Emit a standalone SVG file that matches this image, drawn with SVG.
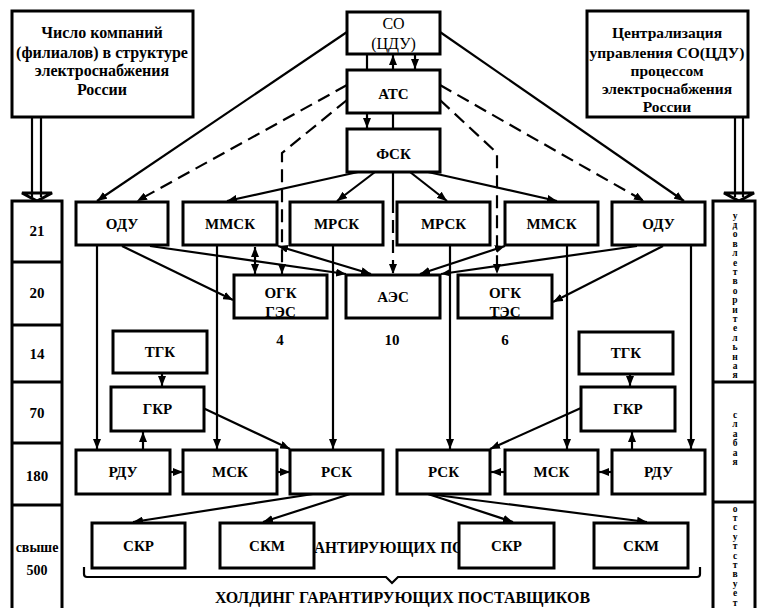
<svg xmlns="http://www.w3.org/2000/svg" width="757" height="608" viewBox="0 0 757 608" font-family="Liberation Serif, Tinos, Times New Roman, serif">
<style>
.box{fill:#fff;stroke:#000;stroke-width:3}
.t{font-weight:bold;font-size:15px;text-anchor:middle;fill:#000}
.s{font-weight:bold;font-size:16px;text-anchor:start;fill:#000}
.r{font-weight:normal;font-size:16px;text-anchor:middle;fill:#000}
.v{font-weight:bold;font-size:9.5px;text-anchor:middle;fill:#000}
.c{fill:none;stroke:#000;stroke-width:2.2}
.d{fill:none;stroke:#000;stroke-width:2.2;stroke-dasharray:13 7}
</style>
<defs>
<marker id="a" markerUnits="userSpaceOnUse" markerWidth="10" markerHeight="8" refX="10" refY="4" orient="auto-start-reverse"><path d="M0,0 L10,4 L0,8 z" fill="#000"/></marker>
</defs>
<rect width="757" height="608" fill="#fff"/>

<g id="connectors">
<line class="c" x1="367" y1="54" x2="367" y2="70"/>
<line class="c" x1="393" y1="70" x2="393" y2="55" marker-end="url(#a)"/>
<line class="c" x1="415" y1="54" x2="415" y2="69" marker-end="url(#a)"/>
<line class="c" x1="367" y1="113" x2="367" y2="128" marker-end="url(#a)"/>
<line class="c" x1="393" y1="113" x2="393" y2="129"/>
<line class="c" x1="347" y1="32" x2="97" y2="201" marker-end="url(#a)"/>
<line class="c" x1="440" y1="32" x2="684" y2="201" marker-end="url(#a)"/>
<line class="d" x1="347" y1="85" x2="137" y2="201" marker-end="url(#a)"/>
<line class="d" x1="440" y1="85" x2="644" y2="201" marker-end="url(#a)"/>
<polyline class="d" points="347,100 282,153 282,274" marker-end="url(#a)"/>
<polyline class="d" points="440,100 497,153 497,274" marker-end="url(#a)"/>
<line class="c" x1="358" y1="172" x2="227" y2="201" marker-end="url(#a)"/>
<line class="c" x1="375" y1="172" x2="337" y2="201" marker-end="url(#a)"/>
<line class="c" x1="393" y1="172" x2="393" y2="200"/>
<line class="d" x1="393" y1="200" x2="393" y2="274" marker-end="url(#a)"/>
<line class="c" x1="410" y1="172" x2="447" y2="201" marker-end="url(#a)"/>
<line class="c" x1="428" y1="172" x2="557" y2="201" marker-end="url(#a)"/>
<line class="c" x1="122" y1="246" x2="233" y2="300" marker-end="url(#a)"/>
<line class="c" x1="150" y1="246" x2="346" y2="274" marker-end="url(#a)"/>
<line class="c" x1="278" y1="246" x2="371" y2="274" marker-start="url(#a)" marker-end="url(#a)"/>
<line class="c" x1="255" y1="247" x2="255" y2="274" marker-start="url(#a)" marker-end="url(#a)"/>
<line class="c" x1="505" y1="246" x2="420" y2="274" marker-start="url(#a)" marker-end="url(#a)"/>
<line class="c" x1="637" y1="246" x2="441" y2="274" marker-end="url(#a)"/>
<line class="c" x1="663" y1="246" x2="553" y2="302" marker-end="url(#a)"/>
<line class="c" x1="97" y1="245" x2="97" y2="449" marker-end="url(#a)"/>
<line class="c" x1="217" y1="245" x2="217" y2="449" marker-end="url(#a)"/>
<line class="c" x1="333" y1="245" x2="333" y2="449" marker-end="url(#a)"/>
<line class="c" x1="450" y1="245" x2="450" y2="449" marker-end="url(#a)"/>
<line class="c" x1="567" y1="245" x2="567" y2="449" marker-end="url(#a)"/>
<line class="c" x1="691" y1="245" x2="691" y2="449" marker-end="url(#a)"/>
<line class="c" x1="162" y1="373" x2="162" y2="386" marker-end="url(#a)"/>
<line class="c" x1="143" y1="450" x2="143" y2="432" marker-end="url(#a)"/>
<line class="c" x1="203" y1="408" x2="290" y2="449" marker-end="url(#a)"/>
<line class="c" x1="630" y1="374" x2="630" y2="386" marker-end="url(#a)"/>
<line class="c" x1="632" y1="450" x2="632" y2="432" marker-end="url(#a)"/>
<line class="c" x1="581" y1="408" x2="490" y2="449" marker-end="url(#a)"/>
<line class="c" x1="170" y1="472" x2="183" y2="472" marker-end="url(#a)"/>
<line class="c" x1="277" y1="472" x2="290" y2="472" marker-end="url(#a)"/>
<line class="c" x1="505" y1="472" x2="491" y2="472" marker-end="url(#a)"/>
<line class="c" x1="612" y1="472" x2="599" y2="472" marker-end="url(#a)"/>
<line class="c" x1="313" y1="494" x2="133" y2="522" marker-end="url(#a)"/>
<line class="c" x1="350" y1="494" x2="263" y2="522" marker-end="url(#a)"/>
<line class="c" x1="428" y1="494" x2="513" y2="522" marker-end="url(#a)"/>
<line class="c" x1="428" y1="494" x2="647" y2="522" marker-end="url(#a)"/>
<line class="c" x1="32" y1="117" x2="32" y2="197"/>
<line class="c" x1="41" y1="117" x2="41" y2="197"/>
<polygon points="22,193 52,193 37,201" fill="none" stroke="#000" stroke-width="3"/>
<line class="c" x1="735" y1="117" x2="735" y2="197"/>
<line class="c" x1="743" y1="117" x2="743" y2="197"/>
<polygon points="724,193 754,193 739,201" fill="none" stroke="#000" stroke-width="3"/>
<path class="c" d="M84,567 L84,574 Q84,577 87,577 L386,577 L392,583 L398,577 L697,577 Q700,577 700,574 L700,567"/>
</g>

<text class="s" x="314" y="553" textLength="150" lengthAdjust="spacingAndGlyphs">АНТИРУЮЩИХ ПО</text>
<text class="s" x="215" y="603" textLength="375" lengthAdjust="spacingAndGlyphs">ХОЛДИНГ ГАРАНТИРУЮЩИХ ПОСТАВЩИКОВ</text>

<g id="info-left">
<rect class="box" x="12" y="11" width="181" height="106"/>
<text class="t" x="102" y="38" style="font-size:16px">Число компаний</text>
<text class="t" x="102" y="58" style="font-size:16px">(филиалов) в структуре</text>
<text class="t" x="102" y="76" style="font-size:16px">электроснабжения</text>
<text class="t" x="102" y="95" style="font-size:16px">России</text>
</g>
<g id="info-right">
<rect class="box" x="587" y="11" width="161" height="106"/>
<text class="t" x="667" y="38" style="font-size:15.5px">Централизация</text>
<text class="t" x="667" y="58" style="font-size:15.5px">управления СО(ЦДУ)</text>
<text class="t" x="667" y="76" style="font-size:15.5px">процессом</text>
<text class="t" x="667" y="94" style="font-size:15.5px">электроснабжения</text>
<text class="t" x="667" y="112" style="font-size:15.5px">России</text>
</g>

<g id="col-left">
<rect class="box" x="12" y="201" width="50" height="420"/>
<line class="box" x1="12" y1="262" x2="62" y2="262"/>
<line class="box" x1="12" y1="325" x2="62" y2="325"/>
<line class="box" x1="12" y1="382" x2="62" y2="382"/>
<line class="box" x1="12" y1="443" x2="62" y2="443"/>
<line class="box" x1="12" y1="505" x2="62" y2="505"/>
<text class="t" x="37" y="236">21</text>
<text class="t" x="37" y="298">20</text>
<text class="t" x="37" y="359">14</text>
<text class="t" x="37" y="418">70</text>
<text class="t" x="37" y="481">180</text>
<text class="t" x="37" y="552" style="font-size:14px">свыше</text>
<text class="t" x="37" y="575" style="font-size:14px">500</text>
</g>

<g id="col-right">
<rect class="box" x="713" y="201" width="42" height="420"/>
<line class="box" x1="713" y1="382" x2="755" y2="382"/>
<line class="box" x1="713" y1="502" x2="755" y2="502"/>
<text class="v"><tspan x="735" y="218.5">у</tspan><tspan x="735" dy="9.4">д</tspan><tspan x="735" dy="9.4">о</tspan><tspan x="735" dy="9.4">в</tspan><tspan x="735" dy="9.4">л</tspan><tspan x="735" dy="9.4">е</tspan><tspan x="735" dy="9.4">т</tspan><tspan x="735" dy="9.4">в</tspan><tspan x="735" dy="9.4">о</tspan><tspan x="735" dy="9.4">р</tspan><tspan x="735" dy="9.4">и</tspan><tspan x="735" dy="9.4">т</tspan><tspan x="735" dy="9.4">е</tspan><tspan x="735" dy="9.4">л</tspan><tspan x="735" dy="9.4">ь</tspan><tspan x="735" dy="9.4">н</tspan><tspan x="735" dy="9.4">а</tspan><tspan x="735" dy="9.4">я</tspan></text>
<text class="v"><tspan x="735" y="418">с</tspan><tspan x="735" dy="9.4">л</tspan><tspan x="735" dy="9.4">а</tspan><tspan x="735" dy="9.4">б</tspan><tspan x="735" dy="9.4">а</tspan><tspan x="735" dy="9.4">я</tspan></text>
<text class="v"><tspan x="735" y="511.5">о</tspan><tspan x="735" dy="9.4">т</tspan><tspan x="735" dy="9.4">с</tspan><tspan x="735" dy="9.4">у</tspan><tspan x="735" dy="9.4">т</tspan><tspan x="735" dy="9.4">с</tspan><tspan x="735" dy="9.4">т</tspan><tspan x="735" dy="9.4">в</tspan><tspan x="735" dy="9.4">у</tspan><tspan x="735" dy="9.4">е</tspan><tspan x="735" dy="9.4">т</tspan></text>
</g>

<g id="so"><rect class="box" x="347" y="12" width="93" height="42"/><text class="r" x="393.5" y="29">СО</text><text class="r" x="393.5" y="49">(ЦДУ)</text></g>
<g id="ats"><rect class="box" x="347" y="70" width="93" height="43"/><text class="t" x="393.5" y="99">АТС</text></g>
<g id="fsk"><rect class="box" x="347" y="129" width="93" height="43"/><text class="t" x="393.5" y="159">ФСК</text></g>

<g id="odu-l"><rect class="box" x="76" y="202" width="92" height="43"/><text class="t" x="122" y="229">ОДУ</text></g>
<g id="mmsk-l"><rect class="box" x="183" y="202" width="94" height="43"/><text class="t" x="230" y="229">ММСК</text></g>
<g id="mrsk-l"><rect class="box" x="290" y="202" width="93" height="43"/><text class="t" x="336.5" y="229">МРСК</text></g>
<g id="mrsk-r"><rect class="box" x="397" y="202" width="93" height="43"/><text class="t" x="443.5" y="229">МРСК</text></g>
<g id="mmsk-r"><rect class="box" x="505" y="202" width="93" height="43"/><text class="t" x="551.5" y="229">ММСК</text></g>
<g id="odu-r"><rect class="box" x="612" y="202" width="93" height="43"/><text class="t" x="658.5" y="229">ОДУ</text></g>

<g id="ogk-ges"><rect class="box" x="234" y="275" width="93" height="43"/><text class="t" x="280.5" y="298">ОГК</text><text class="t" x="280.5" y="317">ГЭС</text></g>
<g id="aes"><rect class="box" x="346" y="275" width="94" height="43"/><text class="t" x="393" y="302">АЭС</text></g>
<g id="ogk-tes"><rect class="box" x="458" y="275" width="94" height="43"/><text class="t" x="505" y="298">ОГК</text><text class="t" x="505" y="317">ТЭС</text></g>
<g id="nums"><text class="t" x="280" y="345">4</text><text class="t" x="392" y="345">10</text><text class="t" x="505" y="345">6</text></g>

<g id="tgk-l"><rect class="box" x="113" y="331" width="94" height="42"/><text class="t" x="160" y="357">ТГК</text></g>
<g id="gkr-l"><rect class="box" x="111" y="387" width="93" height="44"/><text class="t" x="157.5" y="414">ГКР</text></g>
<g id="tgk-r"><rect class="box" x="579" y="332" width="94" height="42"/><text class="t" x="626" y="358">ТГК</text></g>
<g id="gkr-r"><rect class="box" x="581" y="387" width="94" height="44"/><text class="t" x="628" y="414">ГКР</text></g>

<g id="rdu-l"><rect class="box" x="76" y="450" width="94" height="44"/><text class="t" x="123" y="477">РДУ</text></g>
<g id="msk-l"><rect class="box" x="183" y="450" width="94" height="44"/><text class="t" x="230" y="477">МСК</text></g>
<g id="rsk-l"><rect class="box" x="290" y="450" width="93" height="44"/><text class="t" x="336.5" y="477">РСК</text></g>
<g id="rsk-r"><rect class="box" x="397" y="450" width="93" height="44"/><text class="t" x="443.5" y="477">РСК</text></g>
<g id="msk-r"><rect class="box" x="505" y="450" width="93" height="44"/><text class="t" x="551.5" y="477">МСК</text></g>
<g id="rdu-r"><rect class="box" x="612" y="450" width="93" height="44"/><text class="t" x="658.5" y="477">РДУ</text></g>

<g id="skr-l"><rect class="box" x="92" y="523" width="93" height="45"/><text class="t" x="138.5" y="551">СКР</text></g>
<g id="skm-l"><rect class="box" x="220" y="523" width="94" height="45"/><text class="t" x="267" y="551">СКМ</text></g>
<g id="skr-r"><rect class="box" x="459" y="523" width="95" height="45"/><text class="t" x="506.5" y="551">СКР</text></g>
<g id="skm-r"><rect class="box" x="594" y="523" width="94" height="45"/><text class="t" x="641" y="551">СКМ</text></g>
</svg>
